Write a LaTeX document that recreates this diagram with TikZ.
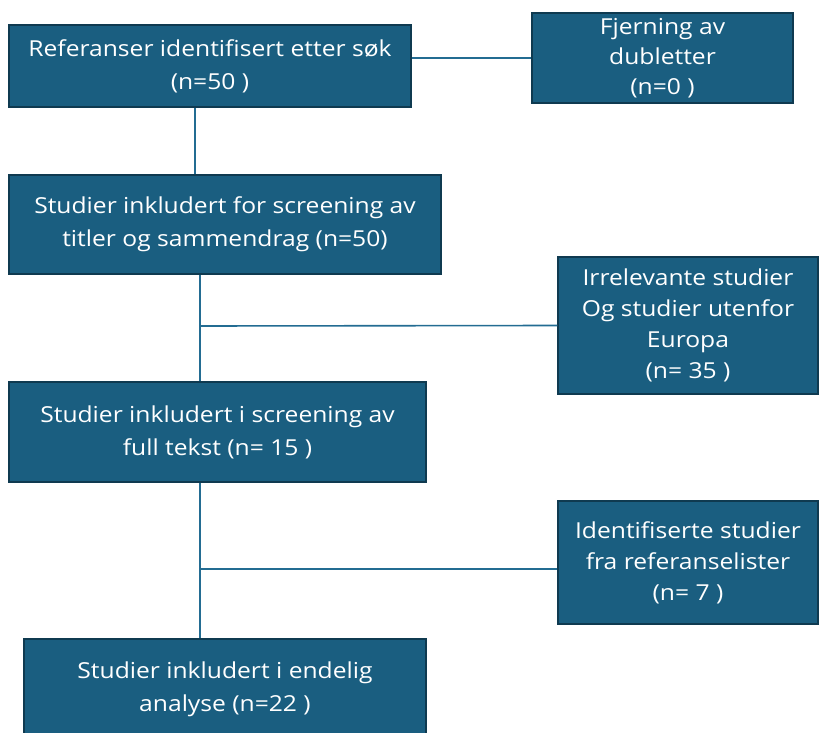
\documentclass[tikz,border=0pt]{standalone}
\usepackage{fontspec}
\setmainfont[FakeStretch=1.12]{Open Sans}
\usepackage{xcolor}
\usepackage{tikz}

\definecolor{boxfill}{HTML}{1A5E80}
\definecolor{boxedge}{HTML}{0F3A50}
\definecolor{linkcol}{HTML}{236C92}

\begin{document}
\begin{tikzpicture}[
  x=1pt, y=-1pt,
  box/.style={rectangle, draw=boxedge, line width=1.5pt, fill=boxfill, text=white, align=center, inner sep=0pt, font=\fontsize{22}{33}\selectfont},
  sidebox/.style={box, font=\fontsize{22}{31}\selectfont},
  link/.style={draw=linkcol, line width=1.6pt}
]
\useasboundingbox (0,0) rectangle (822,733);
\node[box, minimum width=402pt, minimum height=82pt] (ref) at (210,66) {Referanser identifisert etter søk\\(n=50 )};
\node[sidebox, minimum width=261pt, minimum height=90pt, font=\fontsize{22}{30}\selectfont] (dup) at (662.5,58) {Fjerning av\\dubletter\\(n=0 )};
\node[box, minimum width=432pt, minimum height=99pt] (titles) at (225,224.5) {Studier inkludert for screening av\\titler og sammendrag (n=50)};
\node[sidebox, minimum width=260pt, minimum height=137pt] (irrel) at (688,325.5) {Irrelevante studier\\Og studier utenfor\\Europa\\(n= 35 )};
\node[box, minimum width=417pt, minimum height=100pt] (full) at (217.5,432) {Studier inkludert i screening av\\full tekst (n= 15 )};
\node[sidebox, minimum width=260pt, minimum height=123pt] (reflist) at (688,562.5) {Identifiserte studier\\fra referanselister\\(n= 7 )};
\node[box, minimum width=402pt, minimum height=100pt] (final) at (225,689) {Studier inkludert i endelig\\analyse (n=22 )};
\coordinate (join1) at (200,326);
\coordinate (join2) at (200,569);
\draw[link] (dup.west -| ref.east) -- (dup.west);
\draw[link] ([xshift=-15pt]ref.south) -- ([xshift=-30pt]titles.north);
\draw[link] ([xshift=-25pt]titles.south) -- ([xshift=-17.5pt]full.north);
\draw[link] (join1) -- (irrel.west);
\draw[link] ([xshift=-17.5pt]full.south) -- ([xshift=-25pt]final.north);
\draw[link] (join2) -- (join2 -| reflist.west);
\end{tikzpicture}
\end{document}
